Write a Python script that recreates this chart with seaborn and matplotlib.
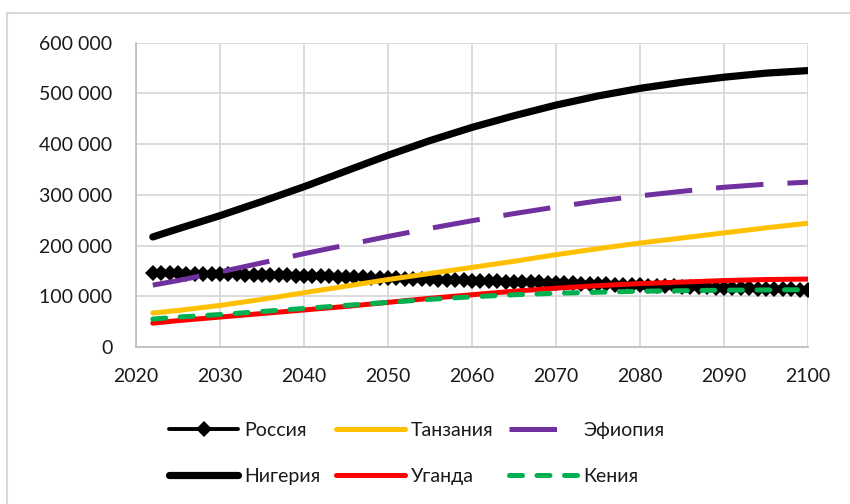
import matplotlib
matplotlib.use("Agg")
import matplotlib.pyplot as plt
import numpy as np
import pandas as pd
import seaborn as sns
from matplotlib.patches import Rectangle

# ---- data ----
years_5 = [2022, 2025, 2030, 2035, 2040, 2045, 2050, 2055, 2060, 2065,
           2070, 2075, 2080, 2085, 2090, 2095, 2100]
nigeria = [217000, 233000, 259000, 287000, 316000, 347000, 378000, 407000, 433000,
           456000, 477000, 495000, 510000, 522000, 532000, 540000, 545000]
ethiopia = [122000, 131000, 148000, 166000, 184000, 201000, 218000, 234000, 249000,
            263000, 276000, 288000, 298000, 307000, 315000, 321000, 325000]
tanzania = [67000, 72000, 82000, 94000, 107000, 120000, 133000, 145000, 157000,
            169000, 182000, 194000, 205000, 215000, 225000, 235000, 244000]
uganda = [47000, 52000, 59000, 66000, 73000, 80000, 88000, 96000, 103000,
          110000, 116000, 121000, 125000, 128000, 131000, 133000, 134000]
kenya = [55000, 59000, 64000, 70000, 76000, 82000, 88000, 94000, 99000,
         103000, 106000, 108000, 110000, 111000, 112000, 112500, 113000]

years_1 = list(range(2022, 2101))
russia = [146000, 145700, 145400, 145100, 144800, 144500, 144200, 143900, 143600,
          143300, 143000, 142700, 142400, 142100, 141800, 141500, 141100, 140700,
          140300, 139900, 139500, 139100, 138700, 138300, 137900, 137500, 137000,
          136500, 136000, 135500, 135000, 134500, 134000, 133500, 133000, 132500,
          132000, 131500, 131000, 130500, 130000, 129500, 129000, 128600, 128200,
          127800, 127400, 127000, 126600, 126200, 125700, 125200, 124700, 124200,
          123700, 123200, 122700, 122200, 121700, 121200, 120700, 120200, 119700,
          119200, 118700, 118200, 117700, 117200, 116800, 116400, 116000, 115600,
          115200, 114800, 114400, 114000, 113600, 113200, 112800]

x_ticks = [2020, 2030, 2040, 2050, 2060, 2070, 2080, 2090, 2100]
y_ticks = [0, 100000, 200000, 300000, 400000, 500000, 600000]
y_tick_labels = ["0", "100 000", "200 000", "300 000", "400 000", "500 000", "600 000"]

names = ["Россия", "Танзания", "Эфиопия", "Нигерия", "Уганда", "Кения"]

# ---- style ----
sns.set_theme(style="white")
plt.rcParams["font.family"] = ["Lato", "DejaVu Sans"]
text_color = "#1a1a1a"
fs = 14

fig = plt.figure(figsize=(8.5, 5.04), dpi=100)
W, H = 850, 504
ax = fig.add_axes([136 / W, 1 - 347 / H, (808 - 136) / W, (347 - 42.7) / H])

df5 = pd.DataFrame({"year": years_5, "Нигерия": nigeria, "Эфиопия": ethiopia,
                    "Танзания": tanzania, "Уганда": uganda, "Кения": kenya})
df1 = pd.DataFrame({"year": years_1, "Россия": russia})

handles = {}

sns.lineplot(data=df1, x="year", y="Россия", ax=ax, color="black", lw=2.8,
             marker="D", markersize=8.5, markeredgewidth=0, label="Россия")
handles["Россия"] = ax.lines[-1]

sns.lineplot(data=df5, x="year", y="Танзания", ax=ax, color="#ffc000", lw=3.6,
             label="Танзания")
handles["Танзания"] = ax.lines[-1]

sns.lineplot(data=df5, x="year", y="Эфиопия", ax=ax, color="#7030a0", lw=3.6,
             label="Эфиопия")
l = ax.lines[-1]
l.set_dashes((9.5, 4.8))
l.set_dash_capstyle("butt")
handles["Эфиопия"] = l

sns.lineplot(data=df5, x="year", y="Нигерия", ax=ax, color="black", lw=5.2,
             label="Нигерия", solid_capstyle="round")
handles["Нигерия"] = ax.lines[-1]

sns.lineplot(data=df5, x="year", y="Уганда", ax=ax, color="#ff0000", lw=3.6,
             label="Уганда")
handles["Уганда"] = ax.lines[-1]

sns.lineplot(data=df5, x="year", y="Кения", ax=ax, color="#00b050", lw=3.6,
             label="Кения")
l = ax.lines[-1]
l.set_dashes((2.6, 2.9))
l.set_dash_capstyle("round")
handles["Кения"] = l

if ax.get_legend() is not None:
    ax.get_legend().remove()

ax.set_xlim(2020, 2100)
ax.set_ylim(0, 600000)
ax.set_xticks(x_ticks)
ax.set_xticklabels([str(t) for t in x_ticks])
ax.set_yticks(y_ticks)
ax.set_yticklabels(y_tick_labels)
ax.set_xlabel("")
ax.set_ylabel("")
ax.tick_params(axis="both", length=0, labelsize=fs, colors=text_color)
ax.tick_params(axis="y", pad=17)
ax.tick_params(axis="x", pad=15)

ax.set_axisbelow(True)
ax.grid(True, color="#d9d9d9", lw=1.3)
for s in ["top", "right"]:
    ax.spines[s].set_visible(False)
for s in ["left", "bottom"]:
    ax.spines[s].set_color("#bfbfbf")
    ax.spines[s].set_linewidth(1.3)

order = ["Россия", "Нигерия", "Танзания", "Уганда", "Эфиопия", "Кения"]
leg = fig.legend([handles[n] for n in order], order, loc="center",
                 bbox_to_anchor=(417 / W, 1 - 453.5 / H), ncol=3, frameon=False,
                 fontsize=fs, handlelength=3.55, handletextpad=0.3,
                 columnspacing=0.8, labelspacing=1.5)
for t in leg.get_texts():
    t.set_color(text_color)

fig.patches.append(Rectangle((7 / W, -0.2), 1.2, 1.2 - 13 / H,
                             transform=fig.transFigure, fill=False,
                             edgecolor="#d9d9d9", lw=1.5))

fig.savefig("out.png", dpi=100, facecolor="white")
